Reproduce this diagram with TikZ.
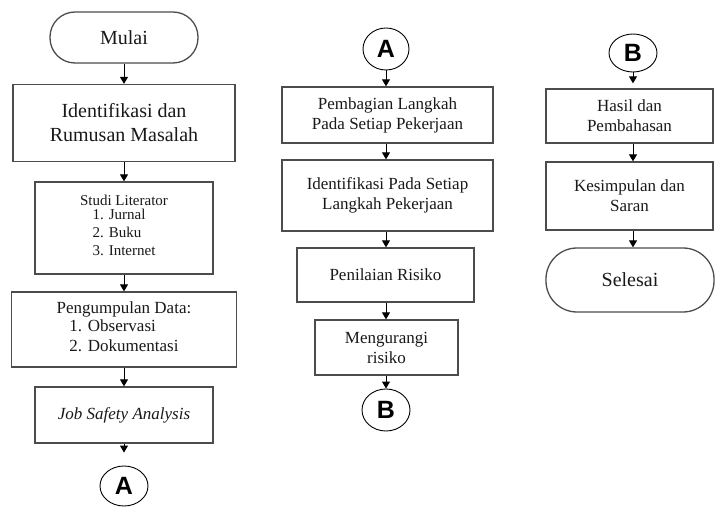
\documentclass[tikz,border=0pt]{standalone}
\usepackage{fontspec}
\setmainfont{Liberation Serif}
\newfontfamily\connfont{Liberation Sans}
\usetikzlibrary{arrows.meta,shapes.geometric}
\begin{document}
\begin{tikzpicture}[x=1pt,y=-1pt,
  box/.style={draw=black!70,line width=1.3pt,rectangle,inner sep=0pt,align=center,text=black!90},
  fbig/.style={font=\fontsize{20}{24}\selectfont},
  fmid/.style={font=\fontsize{17}{20}\selectfont},
  fsmall/.style={font=\fontsize{15}{18}\selectfont},
  termA/.style={box,rounded corners=25pt},
  termB/.style={box,rounded corners=31pt},
  conn/.style={draw=black,line width=0.9pt,ellipse,inner sep=0pt,font=\connfont\bfseries\fontsize{25}{25}\selectfont},
  arr/.style={draw=black,line width=1pt,-{Triangle[width=8pt,length=7pt]}},
]
\path[use as bounding box,fill=white] (0,0) rectangle (716,508);

% left column
\node[termA,fbig,minimum width=148pt,minimum height=51pt] (mulai) at (124,37.5) {Mulai};
\node[box,fbig,minimum width=222pt,minimum height=77pt] (ident) at (124,123) {Identifikasi dan\\Rumusan Masalah};
\node[box,fsmall,minimum width=178pt,minimum height=92pt] (studi) at (124,228) {Studi Literator\\\begin{tabular}{@{}l@{}}1. Jurnal\\2. Buku\\3. Internet\end{tabular}};
\node[box,fmid,minimum width=225pt,minimum height=75pt] (pengum) at (124,329.5) {Pengumpulan Data:\\\begin{tabular}{@{}l@{}}1. Observasi\\2. Dokumentasi\end{tabular}};
\node[box,fmid,minimum width=178pt,minimum height=56pt] (jsa) at (124,415) {\textit{Job Safety Analysis}};
\node[conn,minimum width=48pt,minimum height=40pt] (A1) at (124,486) {A};

\draw[arr] (mulai) -- (ident);
\draw[arr] (ident) -- (studi);
\draw[arr] (studi) -- (pengum);
\draw[arr] (pengum) -- (jsa);
\draw[arr,shorten >=13pt] (jsa) -- (A1);

% middle column
\node[conn,minimum width=46pt,minimum height=42pt] (A2) at (386,49) {A};
\node[box,fmid,minimum width=211pt,minimum height=56pt] (pemb) at (387.5,115) {Pembagian Langkah\\Pada Setiap Pekerjaan};
\node[box,fmid,minimum width=211pt,minimum height=71pt] (ident2) at (387.5,195.5) {Identifikasi Pada Setiap\\Langkah Pekerjaan};
\node[box,fmid,minimum width=177pt,minimum height=54pt] (penil) at (385.5,275) {Penilaian Risiko};
\node[box,fmid,minimum width=143pt,minimum height=55pt] (meng) at (386.5,347.5) {Mengurangi\\risiko};
\node[conn,minimum width=48pt,minimum height=42pt] (B1) at (386,410) {B};

\draw[arr] (A2.south) -- (A2.south |- pemb.north);
\draw[arr] (pemb.south -| A2.south) -- (A2.south |- ident2.north);
\draw[arr] (ident2.south -| A2.south) -- (A2.south |- penil.north);
\draw[arr] (penil.south -| A2.south) -- (A2.south |- meng.north);
\draw[arr] (meng.south -| A2.south) -- (B1.north);

% right column
\node[conn,minimum width=48pt,minimum height=38pt] (B2) at (633,53) {B};
\node[box,fmid,minimum width=167pt,minimum height=54pt] (hasil) at (629.5,116) {Hasil dan\\Pembahasan};
\node[box,fmid,minimum width=167pt,minimum height=68pt] (kesim) at (629.5,196) {Kesimpulan dan\\Saran};
\node[termB,fbig,minimum width=168pt,minimum height=64pt] (selesai) at (630,280) {Selesai};

\draw[arr,shorten >=5pt] (B2.south) -- (B2.south |- hasil.north);
\draw[arr] (hasil.south -| B2.south) -- (B2.south |- kesim.north);
\draw[arr] (kesim.south -| B2.south) -- (B2.south |- selesai.north);
\end{tikzpicture}
\end{document}
